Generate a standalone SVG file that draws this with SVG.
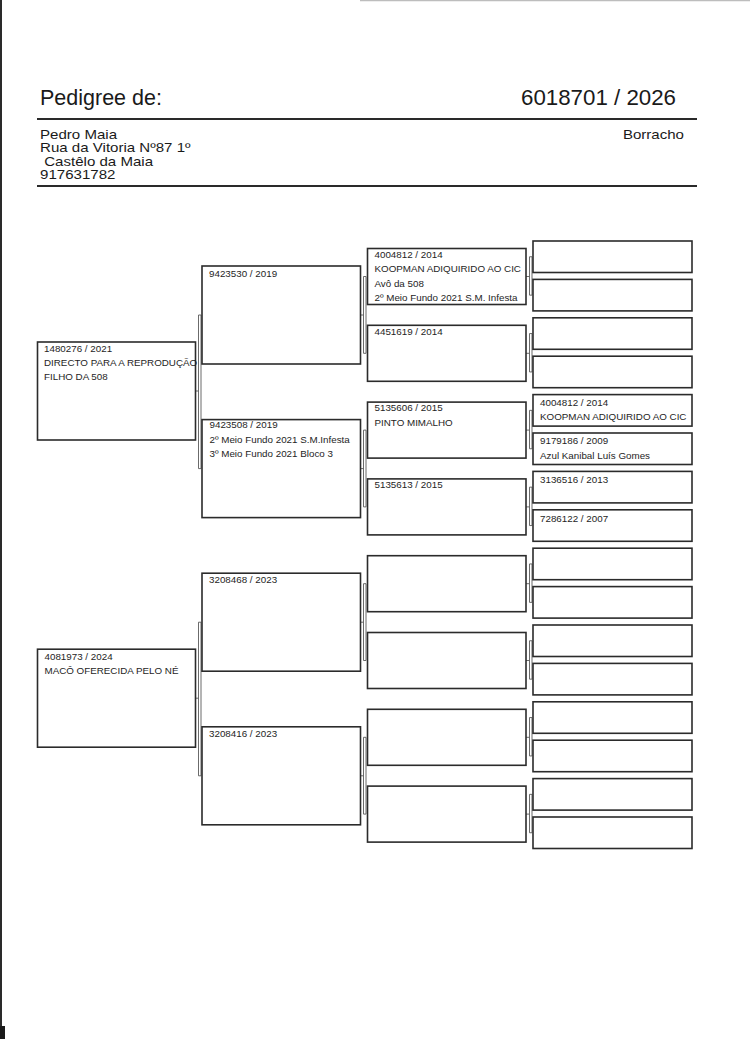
<svg xmlns="http://www.w3.org/2000/svg" width="750" height="1039" viewBox="0 0 750 1039">
<style>
.bg{fill:#ffffff}
.box{fill:#ffffff;stroke:#2b2b2b;stroke-width:1.6}
.conn path{fill:none;stroke:#5a5a5a;stroke-width:0.9}
.t{font-family:"Liberation Sans",Arial,sans-serif;font-size:9.8px;fill:#1e1e1e}
.h1{font-family:"Liberation Sans",Arial,sans-serif;font-size:21.5px;fill:#1a1a1a}
.h2{font-family:"Liberation Sans",Arial,sans-serif;font-size:13px;fill:#1a1a1a}
.rule{stroke:#2a2a2a;stroke-width:2}
</style>
<rect class="bg" x="0" y="0" width="750" height="1039"/>
<line x1="1" y1="0" x2="1" y2="1039" stroke="#2a2a2a" stroke-width="2"/>
<line x1="360" y1="0.6" x2="750" y2="0.6" stroke="#bdbdbd" stroke-width="1.2"/>
<rect x="0" y="1026" width="5" height="13" fill="#1a1a1a"/>

<g id="header">
<text class="h1" x="40" y="105">Pedigree de:</text>
<text class="h1" x="676" y="105" text-anchor="end" style="font-size:22.3px">6018701 / 2026</text>
<line class="rule" x1="37" y1="119" x2="697" y2="119"/>
<g transform="translate(40,0) scale(1.16,1)">
<text class="h2" x="0" y="139">Pedro Maia</text>
<text class="h2" x="0" y="152.5">Rua da Vitoria Nº87 1º</text>
<text class="h2" x="0" y="166" xml:space="preserve"> Castêlo da Maia</text>
<text class="h2" x="0" y="179.5">917631782</text>
</g>
<g transform="translate(684,0) scale(1.16,1)">
<text class="h2" x="0" y="139" text-anchor="end">Borracho</text>
</g>
<line class="rule" x1="37" y1="186" x2="697" y2="186"/>
</g>

<g id="connectors" class="conn">
<path d="M195.5 391H198.5M198.5 315H201V468.6H198.5Z"/>
<path d="M195.5 698.2H198.5M198.5 622.2H201V775.8H198.5Z"/>
<path d="M360.5 315H363.5M363.5 276.5H366V353.3H363.5Z"/>
<path d="M360.5 468.6H363.5M363.5 430.1H366V506.9H363.5Z"/>
<path d="M360.5 622.2H363.5M363.5 583.7H366V660.5H363.5Z"/>
<path d="M360.5 775.8H363.5M363.5 737.3H366V814.1H363.5Z"/>
<path d="M526 276.5H529.5M529.5 256.75H532V295.15H529.5Z"/>
<path d="M526 353.3H529.5M529.5 333.55H532V371.95H529.5Z"/>
<path d="M526 430.1H529.5M529.5 410.35H532V448.75H529.5Z"/>
<path d="M526 506.9H529.5M529.5 487.15H532V525.55H529.5Z"/>
<path d="M526 583.7H529.5M529.5 563.95H532V602.35H529.5Z"/>
<path d="M526 660.5H529.5M529.5 640.75H532V679.15H529.5Z"/>
<path d="M526 737.3H529.5M529.5 717.55H532V755.95H529.5Z"/>
<path d="M526 814.1H529.5M529.5 794.35H532V832.75H529.5Z"/>
</g>

<g id="g1a"><rect class="box" x="37.5" y="342" width="158" height="98"/>
<text class="t" x="44" y="351.5">1480276 / 2021</text>
<text class="t" x="44" y="366">DIRECTO PARA A REPRODUÇÃO</text>
<text class="t" x="44" y="380">FILHO DA 508</text></g>
<g id="g1b"><rect class="box" x="37.5" y="649.2" width="158" height="98"/>
<text class="t" x="44.5" y="659.5">4081973 / 2024</text>
<text class="t" x="44.5" y="674">MACÔ OFERECIDA PELO NÉ</text></g>

<g id="g2a"><rect class="box" x="202" y="266" width="158.5" height="98"/>
<text class="t" x="209" y="277">9423530 / 2019</text></g>
<g id="g2b"><rect class="box" x="202" y="419.6" width="158.5" height="98"/>
<text class="t" x="209.5" y="428">9423508 / 2019</text>
<text class="t" x="209.5" y="442.5">2º Meio Fundo 2021 S.M.Infesta</text>
<text class="t" x="209.5" y="457">3º Meio Fundo 2021 Bloco 3</text></g>
<g id="g2c"><rect class="box" x="202" y="573.2" width="158.5" height="98"/>
<text class="t" x="209" y="582.5">3208468 / 2023</text></g>
<g id="g2d"><rect class="box" x="202" y="726.8" width="158.5" height="98"/>
<text class="t" x="209" y="737">3208416 / 2023</text></g>

<g id="g3a"><rect class="box" x="367.5" y="248.5" width="158.5" height="56"/>
<text class="t" x="374.5" y="257.7">4004812 / 2014</text>
<text class="t" x="374.5" y="272.2">KOOPMAN ADIQUIRIDO AO CIC</text>
<text class="t" x="374.5" y="286.6">Avô da 508</text>
<text class="t" x="374.5" y="300.8">2º Meio Fundo 2021 S.M. Infesta</text></g>
<g id="g3b"><rect class="box" x="367.5" y="325.3" width="158.5" height="56"/>
<text class="t" x="374.5" y="335">4451619 / 2014</text></g>
<g id="g3c"><rect class="box" x="367.5" y="402.1" width="158.5" height="56"/>
<text class="t" x="374.5" y="411.2">5135606 / 2015</text>
<text class="t" x="374.5" y="425.6">PINTO MIMALHO</text></g>
<g id="g3d"><rect class="box" x="367.5" y="478.9" width="158.5" height="56"/>
<text class="t" x="374.5" y="488.3">5135613 / 2015</text></g>
<g id="g3e"><rect class="box" x="367.5" y="555.7" width="158.5" height="56"/></g>
<g id="g3f"><rect class="box" x="367.5" y="632.5" width="158.5" height="56"/></g>
<g id="g3g"><rect class="box" x="367.5" y="709.3" width="158.5" height="56"/></g>
<g id="g3h"><rect class="box" x="367.5" y="786.1" width="158.5" height="56"/></g>

<g id="g4a"><rect class="box" x="533" y="241" width="159" height="31.5"/></g>
<g id="g4b"><rect class="box" x="533" y="279.4" width="159" height="31.5"/></g>
<g id="g4c"><rect class="box" x="533" y="317.8" width="159" height="31.5"/></g>
<g id="g4d"><rect class="box" x="533" y="356.2" width="159" height="31.5"/></g>
<g id="g4e"><rect class="box" x="533" y="394.6" width="159" height="31.5"/>
<text class="t" x="540" y="406">4004812 / 2014</text>
<text class="t" x="540" y="420.3">KOOPMAN ADIQUIRIDO AO CIC</text></g>
<g id="g4f"><rect class="box" x="533" y="433" width="159" height="31.5"/>
<text class="t" x="540" y="444.4">9179186 / 2009</text>
<text class="t" x="540" y="459">Azul Kanibal Luís Gomes</text></g>
<g id="g4g"><rect class="box" x="533" y="471.4" width="159" height="31.5"/>
<text class="t" x="540" y="483.3">3136516 / 2013</text></g>
<g id="g4h"><rect class="box" x="533" y="509.8" width="159" height="31.5"/>
<text class="t" x="540" y="522.3">7286122 / 2007</text></g>
<g id="g4i"><rect class="box" x="533" y="548.2" width="159" height="31.5"/></g>
<g id="g4j"><rect class="box" x="533" y="586.6" width="159" height="31.5"/></g>
<g id="g4k"><rect class="box" x="533" y="625" width="159" height="31.5"/></g>
<g id="g4l"><rect class="box" x="533" y="663.4" width="159" height="31.5"/></g>
<g id="g4m"><rect class="box" x="533" y="701.8" width="159" height="31.5"/></g>
<g id="g4n"><rect class="box" x="533" y="740.2" width="159" height="31.5"/></g>
<g id="g4o"><rect class="box" x="533" y="778.6" width="159" height="31.5"/></g>
<g id="g4p"><rect class="box" x="533" y="817" width="159" height="31.5"/></g>
</svg>
